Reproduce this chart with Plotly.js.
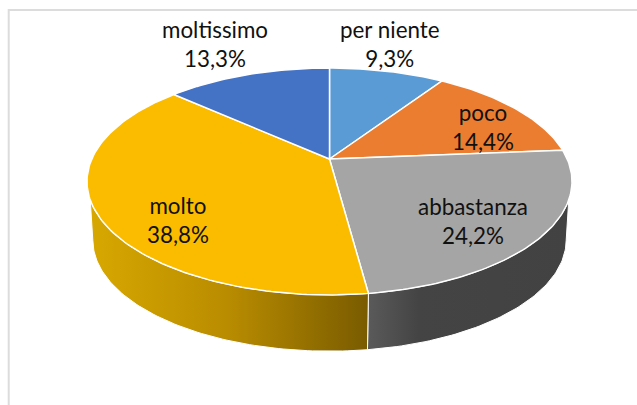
<!DOCTYPE html>
<html>
<head>
<meta charset="utf-8">
<script src="https://cdn.plot.ly/plotly-3.0.1.min.js"></script>
<style>html,body{margin:0;padding:0;background:#fff}#chart{width:637px;height:405px}</style>
</head>
<body>
<div id="chart"></div>
<script>
const categories = ["per niente", "poco", "abbastanza", "molto", "moltissimo"];
const values = [9.3, 14.4, 24.2, 38.8, 13.3];
const topColors = ["#5B9BD5", "#EB7D31", "#A5A5A5", "#FBBC00", "#4472C4"];
const labelX = [390, 483, 473, 178, 215];
const labelY = [44, 127, 221, 220, 44];

// Perspective of the tilted disc, in pixels of the 637x405 axes
const view = {cx: 329.5, top: {cy: 159, a: 237.7, b: 109}, bottom: {cy: 218, a: 232, b: 106.8}, k: 0.198};
// Rim visibility limits (deg, clockwise from 12 o'clock)
const rim = {topStart: 110.5, topEnd: 249.5, botStart: 101.5, botEnd: 258.5};
const rimGradients = {
  2: {start: 368, stop: 571, scale: [[0, "#5a5a5a"], [0.25, "#444444"], [1, "#424242"]]},
  3: {start: 88, stop: 367, scale: [[0, "#d8a800"], [0.5, "#b98c00"], [1, "#7a5c00"]]}
};

function project(deg, face) {
  const t = deg * Math.PI / 180, u = Math.sin(t), v = Math.cos(t), d = 1 + view.k * v;
  return [view.cx + face.a * u / d, face.cy - face.b * v / d];
}
function arc(from, to, face) {
  const n = Math.max(2, Math.ceil(Math.abs(to - from))), pts = [];
  for (let i = 0; i <= n; i++) pts.push(project(from + (to - from) * i / n, face));
  return pts;
}

const total = values.reduce((a, b) => a + b, 0);
let acc = 0;
const spans = values.map(v => { const s = [acc / total * 360, (acc + v) / total * 360]; acc += v; return s; });

const traces = [];
// Rim: drawn first, only the wedges that face the viewer
[2, 3].forEach(i => {
  const [s, e] = spans[i];
  const tS = Math.max(s, rim.topStart), tE = Math.min(e, rim.topEnd);
  const bS = i === 2 ? rim.botStart : s, bE = i === 3 ? rim.botEnd : e;
  const pts = arc(tS, tE, view.top).concat(arc(bE, bS, view.bottom));
  pts.push(pts[0]);
  const g = rimGradients[i];
  traces.push({
    type: "scatter", mode: "lines", name: categories[i] + " rim", hoverinfo: "skip", showlegend: false,
    x: pts.map(p => p[0]), y: pts.map(p => p[1]),
    fill: "toself",
    fillgradient: {type: "horizontal", start: g.start, stop: g.stop, colorscale: g.scale},
    line: {color: "#ffffff", width: 1}
  });
});
// Top face wedges
spans.forEach((sp, i) => {
  const pts = [[view.cx, view.top.cy]].concat(arc(sp[0], sp[1], view.top));
  pts.push(pts[0]);
  traces.push({
    type: "scatter", mode: "lines", name: categories[i], hoverinfo: "skip", showlegend: false,
    x: pts.map(p => p[0]), y: pts.map(p => p[1]),
    fill: "toself", fillcolor: topColors[i],
    line: {color: "#ffffff", width: 1.5}
  });
});

const annotations = categories.map((c, i) => ({
  xref: "x", yref: "y", x: labelX[i], y: labelY[i], showarrow: false,
  text: c + "<br>" + values[i].toFixed(1).replace(".", ",") + "%",
  font: {family: "Lato, 'Open Sans', sans-serif", size: 22.4, color: "#111111"},
  align: "center", xanchor: "center", yanchor: "middle"
}));

const frameColor = "#dcdcdc";
const layout = {
  width: 637, height: 405, margin: {l: 0, r: 0, t: 0, b: 0},
  paper_bgcolor: "#ffffff", plot_bgcolor: "#ffffff", showlegend: false,
  xaxis: {range: [0, 637], visible: false, fixedrange: true},
  yaxis: {range: [405, 0], visible: false, fixedrange: true},
  annotations,
  shapes: [
    {type: "line", xref: "x", yref: "y", x0: 8.7, x1: 8.7, y0: 9, y1: 405, line: {color: frameColor, width: 2}},
    {type: "line", xref: "x", yref: "y", x0: 8, x1: 637, y0: 10, y1: 10, line: {color: frameColor, width: 2}}
  ]
};
Plotly.newPlot("chart", traces, layout, {displayModeBar: false, staticPlot: true});
</script>
</body>
</html>
